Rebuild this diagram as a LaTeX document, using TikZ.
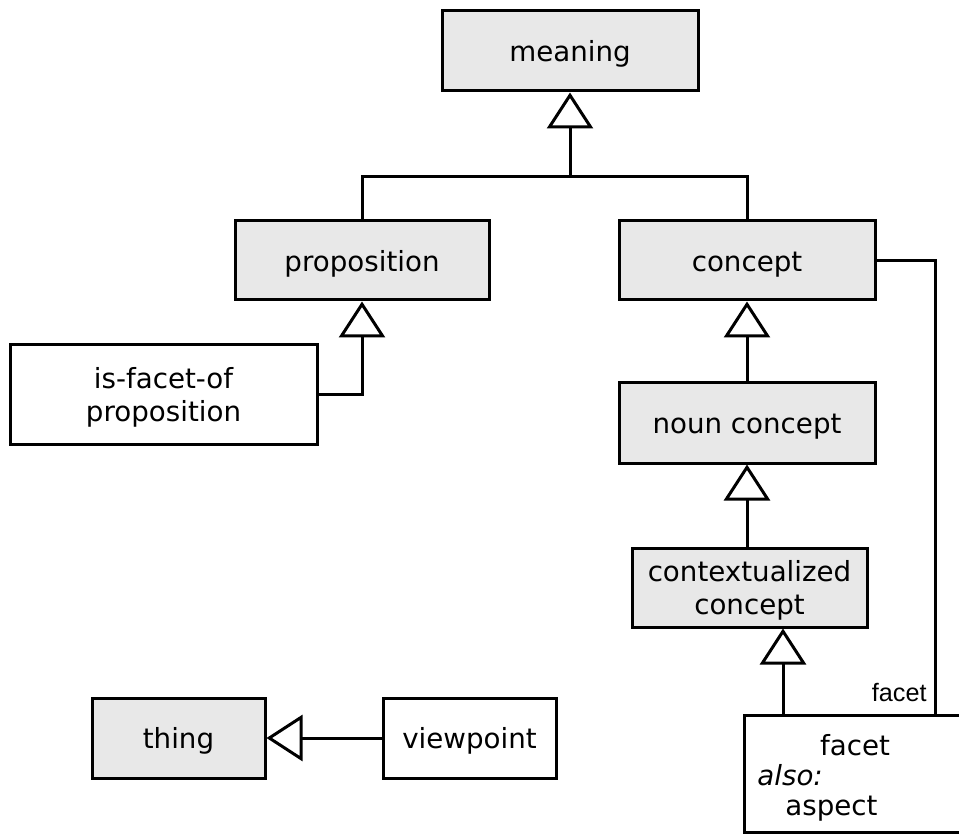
\documentclass[tikz,border=0pt]{standalone}
\usepackage{fontspec}
\setmainfont{DejaVu Sans}
\newfontfamily\lblfont{Liberation Sans}
\usetikzlibrary{arrows.meta,calc}
\definecolor{boxgray}{RGB}{232,232,232}
\begin{document}
\begin{tikzpicture}[x=0.5pt,y=-0.5pt,
  box/.style={draw=black, line width=1.5pt, rectangle, inner sep=0pt, align=center,
    font=\fontsize{13.85pt}{16.5pt}\selectfont, text height=14pt, text depth=3.3pt},
  two/.style={text height=30.5pt, text depth=3.3pt},
  gbox/.style={box, fill=boxgray},
  wbox/.style={box, fill=white},
  txt/.style={inner sep=0pt, font=\fontsize{13.85pt}{16.5pt}\selectfont},
  lbl/.style={inner sep=0pt, font=\lblfont\fontsize{12.6pt}{14pt}\selectfont},
  gen/.style={line width=1.5pt, -{Triangle[open,length=18pt,width=23pt]}},
  assoc/.style={line width=1.5pt}]
\useasboundingbox (0,0) rectangle (959,834);

\node[gbox, minimum width=128pt, minimum height=40pt] (meaning) at (570,51) {meaning};
\node[gbox, minimum width=127pt, minimum height=39.5pt] (proposition) at (362,260.5) {proposition};
\node[gbox, minimum width=128pt, minimum height=39.5pt] (concept) at (747,260.5) {concept};
\node[wbox, two, minimum width=153.5pt, minimum height=49.5pt] (isfacet) at (163.5,394.5) {is-facet-of\\proposition};
\node[gbox, minimum width=128pt, minimum height=40pt] (noun) at (747,423) {noun concept};
\node[gbox, two, minimum width=117.5pt, minimum height=39.5pt] (ctx) at (749.5,587.5) {contextualized\\concept};
\node[gbox, minimum width=86.5pt, minimum height=40pt] (thing) at (178.5,738) {thing};
\node[wbox, minimum width=86.5pt, minimum height=40pt] (viewpoint) at (469.5,738) {viewpoint};
\node[wbox, minimum width=111pt, minimum height=58.5pt] (facet) at (855,773.5) {};
\node[txt, anchor=base] (fname) at (855,755) {facet};
\node[txt, anchor=base west] (falso) at (757,785) {\itshape also:};
\node[txt, anchor=base west] (faspect) at (785,815) {aspect};

\coordinate (j) at (570,177);
\draw[assoc] (proposition.north) |- (j) -| (concept.north);
\draw[gen] (j) -- (meaning.south);
\draw[gen] (isfacet.east) -| (proposition.south);
\draw[gen] (noun.north) -- (concept.south);
\draw[gen] (noun.south |- ctx.north) -- (noun.south);
\coordinate (fgen) at ($(facet.north)+(-72,0)$);
\draw[gen] (fgen) -- (fgen |- ctx.south);
\coordinate (fas) at ($(facet.north)+(80,0)$);
\draw[assoc] (concept.east) -| (fas);
\node[lbl, anchor=base east] (rolelbl) at ($(fas)+(-8,-12)$) {facet};
\draw[gen] (viewpoint.west) -- (thing.east);
\end{tikzpicture}
\end{document}
